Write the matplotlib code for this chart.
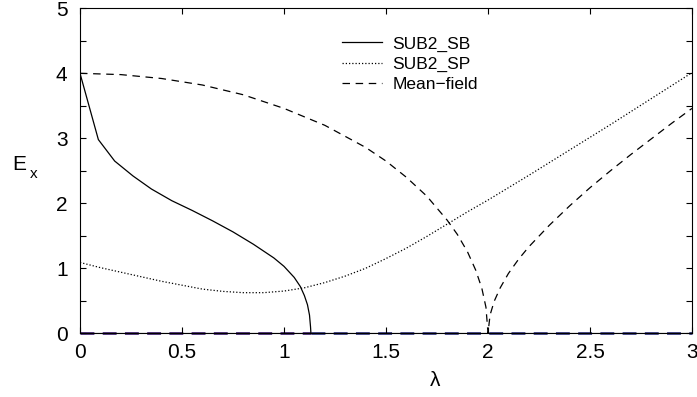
import matplotlib
matplotlib.use("Agg")
import matplotlib.pyplot as plt
from matplotlib.ticker import MultipleLocator

plt.rcParams['font.family'] = ['Liberation Sans', 'DejaVu Sans']

# SUB2_SB (solid)
sb_lam = [0.0, 0.09, 0.17, 0.26, 0.35, 0.45, 0.55, 0.65, 0.75, 0.85, 0.95, 1.0,
          1.05, 1.08, 1.10, 1.115, 1.125, 1.13, 1.132]
sb_E = [4.0, 2.98, 2.65, 2.42, 2.22, 2.04, 1.89, 1.73, 1.56, 1.37, 1.16, 1.03,
        0.86, 0.72, 0.58, 0.44, 0.28, 0.10, 0.0]

# SUB2_SP (dotted)
sp_lam = [0.0, 0.1, 0.2, 0.3, 0.4, 0.5, 0.6, 0.7, 0.8, 0.9, 1.0, 1.1, 1.2, 1.3,
          1.4, 1.5, 1.6, 1.7, 1.8, 1.9, 2.0, 2.2, 2.4, 2.6, 2.8, 3.0]
sp_E = [1.09, 1.01, 0.94, 0.87, 0.80, 0.74, 0.68, 0.645, 0.625, 0.625, 0.65,
        0.70, 0.78, 0.88, 1.00, 1.15, 1.31, 1.49, 1.68, 1.87, 2.05, 2.43, 2.82,
        3.21, 3.61, 4.01]

# Mean-field (dashed)
mf_lam = [0.0, 0.2, 0.4, 0.6, 0.8, 1.0, 1.2, 1.4, 1.5, 1.6, 1.7, 1.8, 1.85, 1.9,
          1.94, 1.97, 1.99, 2.0, 2.01, 2.03, 2.06, 2.1, 2.15, 2.2, 2.3, 2.4,
          2.5, 2.6, 2.7, 2.8, 2.9, 3.0]
mf_E = [4.00, 3.98, 3.92, 3.82, 3.67, 3.46, 3.20, 2.86, 2.65, 2.40, 2.11, 1.74,
        1.52, 1.25, 0.97, 0.69, 0.40, 0.0, 0.28, 0.49, 0.70, 0.92, 1.14, 1.33,
        1.66, 1.96, 2.24, 2.50, 2.75, 2.99, 3.23, 3.46]

# zero-energy segments along the axis
zero_a_lam = [0.0, 1.13]
zero_b_lam = [1.13, 3.0]
zero_E = [0.0, 0.0]

xticks = [0, 0.5, 1, 1.5, 2, 2.5, 3]
xticklabels = ['0', '0.5', '1', '1.5', '2', '2.5', '3']
yticks = [0, 1, 2, 3, 4, 5]

fig = plt.figure(figsize=(6.97, 3.97), dpi=100)
ax = fig.add_axes([80/697, 1-333.3/397, 612/697, 325/397])

ax.plot(zero_a_lam, zero_E, color='#4a2a78', lw=2.0, dashes=(5, 3), zorder=1, clip_on=False)
ax.plot(zero_b_lam, zero_E, color='#3c3f86', lw=2.0, dashes=(5, 3), zorder=1, clip_on=False)
ax.axhline(0, color='black', lw=0.8, zorder=1.5)

ax.plot(sb_lam, sb_E, color='black', lw=0.9, label='SUB2_SB')
ax.plot(sp_lam, sp_E, color='black', lw=0.9, dashes=(1.0, 1.6), label='SUB2_SP')
ax.plot(mf_lam, mf_E, color='black', lw=0.9, dashes=(6, 4.5), label='Mean\u2212field')

ax.set_xlim(0, 3)
ax.set_ylim(0, 5)
ax.set_xticks(xticks)
ax.set_xticklabels(xticklabels)
ax.set_yticks(yticks)
ax.yaxis.set_minor_locator(MultipleLocator(0.5))
ax.tick_params(which='both', direction='in', top=True, right=True,
               labelsize=15, length=4.5, width=0.8)
ax.tick_params(axis='y', pad=9)
ax.tick_params(axis='x', pad=7)
for s in ax.spines.values():
    s.set_linewidth(0.8)

leg = ax.legend(loc='upper left', bbox_to_anchor=((342-80)/612, 1-28/325), frameon=False,
                fontsize=12.5, handlelength=2.3, handletextpad=0.6,
                labelspacing=0.3, borderpad=0, borderaxespad=0)

fig.text(435/697, 1-380/397, '\u03bb', fontsize=15, ha='center', va='center')
fig.text(19/697, 1-165/397, 'E', fontsize=15, ha='center', va='center')
fig.text(34/697, 1-174/397, 'x', fontsize=11, ha='center', va='center')

fig.savefig('out.png', dpi=100)
